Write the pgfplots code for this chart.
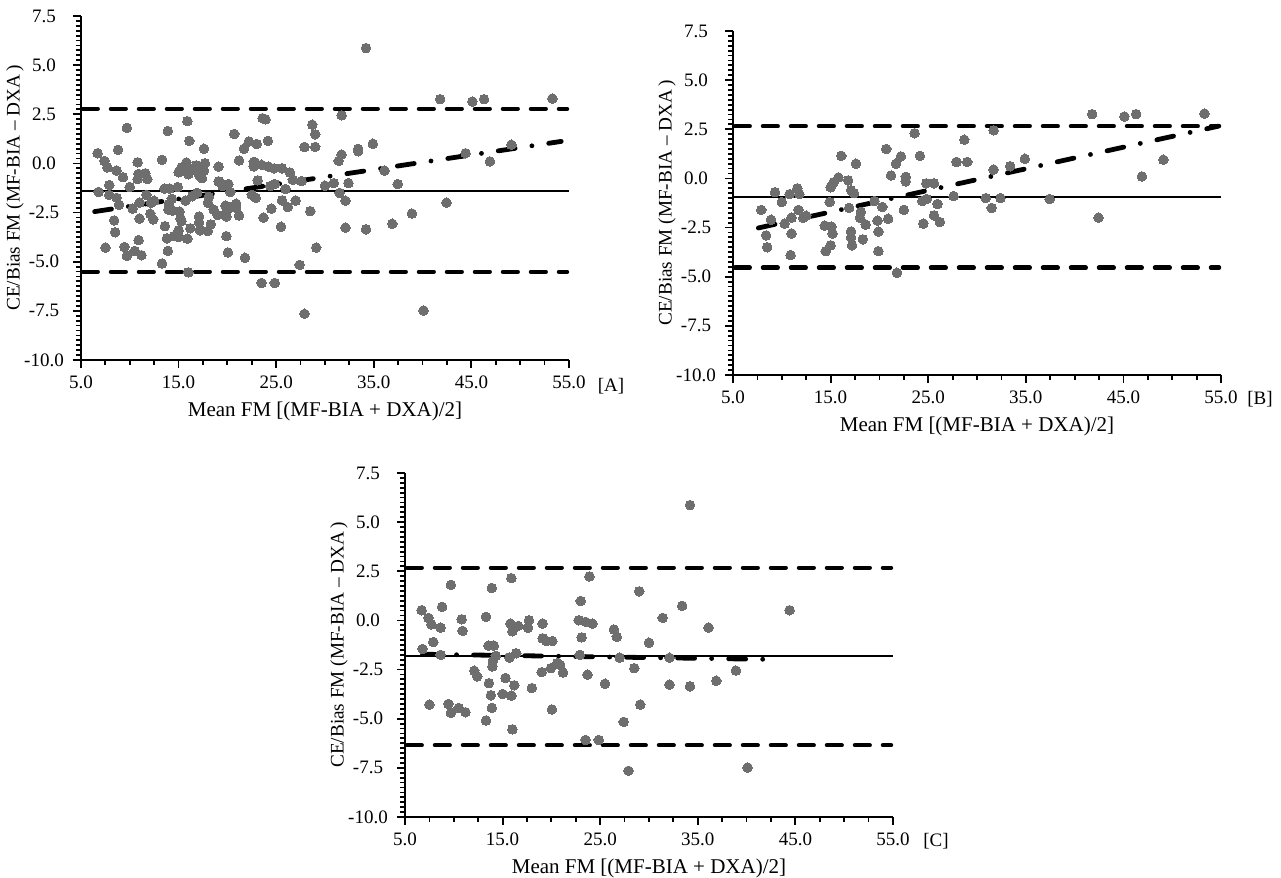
\documentclass[border=0pt]{standalone}
\usepackage{fontspec}
\setmainfont{Liberation Serif}
\usepackage{pgfplots}
\pgfplotsset{compat=1.18}
\usepackage{pgfplotstable}

\definecolor{dotgray}{RGB}{110,110,110}

% group B (first panel B)
\pgfplotstableread{
x y
7.9 -1.6
8.4 -2.9
8.5 -3.5
8.9 -2.1
9.3 -0.7
10.0 -1.2
10.3 -2.3
10.8 -0.8
10.9 -3.9
11.0 -2.0
11.0 -2.8
11.6 -0.5
11.8 -0.8
11.7 -1.6
12.5 -1.9
12.2 -2.0
14.4 -2.4
14.5 -3.7
14.9 -1.2
15.0 -3.4
15.0 -0.45
15.3 -0.2
15.1 -2.45
15.2 -2.8
15.8 0.05
16.1 1.15
16.8 -0.1
16.9 -1.5
17.1 -2.7
17.1 -3.0
17.2 -3.4
17.1 -0.6
17.4 -0.75
17.6 0.75
18.1 -1.7
18.0 -2.0
18.3 -3.1
18.6 -2.35
19.5 -1.15
19.8 -2.15
19.9 -2.7
19.9 -3.7
20.3 -1.45
20.7 1.5
20.9 -2.05
21.2 0.15
21.7 0.75
21.8 -4.8
22.2 1.12
22.5 -1.6
22.7 0.08
22.7 -0.15
23.6 2.3
24.15 1.15
24.4 -1.15
24.5 -2.3
24.8 -0.25
24.85 -1.05
25.6 -0.25
25.6 -1.88
25.95 -1.3
26.2 -2.22
27.6 -0.9
27.9 0.84
28.7 1.97
29.0 0.84
30.9 -1.0
31.5 -1.5
31.7 2.45
31.7 0.45
32.4 -1.0
33.4 0.62
34.9 1.0
37.45 -1.05
41.8 3.27
42.45 -2.0
45.1 3.15
46.3 3.27
46.9 0.1
49.1 0.95
53.3 3.3
}\groupB

% group C
\pgfplotstableread{
x y
6.7 0.52
6.8 -1.45
7.4 0.13
7.5 -4.28
7.7 -0.2
7.9 -1.1
8.65 -0.37
8.8 0.69
8.65 -1.75
9.7 1.81
9.45 -4.25
9.7 -4.7
10.5 -4.45
10.8 0.06
10.9 -0.53
11.2 -4.67
12.1 -2.56
12.4 -2.85
13.3 0.18
13.3 -5.09
13.55 -1.28
13.9 1.65
13.6 -3.19
13.9 -4.45
13.8 -3.81
14.0 -2.06
13.95 -2.34
14.1 -1.28
14.3 -1.8
15.0 -3.74
15.3 -2.93
15.7 -1.89
15.9 2.15
15.8 -0.16
16.0 -0.55
15.9 -3.83
16.0 -5.54
16.2 -3.30
16.4 -1.67
16.6 -0.28
17.6 -0.37
17.7 0.01
18.0 -3.44
19.1 -0.16
19.0 -2.63
19.1 -0.91
19.5 -1.05
20.05 -4.53
20.1 -1.05
19.95 -2.43
20.6 -2.18
20.9 -2.26
21.2 -2.65
22.8 0.01
23.0 0.99
23.1 -0.86
22.9 -1.75
23.5 -0.07
24.2 -0.16
23.9 2.24
23.7 -2.76
23.5 -6.08
24.85 -6.08
25.5 -3.22
26.4 -0.46
26.7 -0.83
27.0 -1.89
27.4 -5.16
27.9 -7.65
28.5 -2.43
29.0 1.48
29.1 -4.28
30.0 -1.13
31.4 0.13
32.1 -3.27
32.1 -1.9
33.4 0.74
34.2 5.87
34.2 -3.35
36.1 -0.37
36.9 -3.07
38.9 -2.55
40.1 -7.48
44.4 0.52
}\groupC

\tikzset{panel/.style={anchor=center, font=\fontsize{9.5}{11}\selectfont}}

\pgfplotsset{
  ba/.style={
    scale only axis,
    width=244pt, height=172pt,
    xmin=5, xmax=55, ymin=-10, ymax=7.5,
    axis lines=left,
    axis line style={-, line width=1.1pt},
    xtick={5,15,...,55},
    ytick={-10,-7.5,...,7.5},
    minor x tick num=3,
    minor y tick num=9,
    tick align=outside,
    major tick length=4pt,
    minor tick length=2.5pt,
    every tick/.style={black, line width=0.9pt},
    tick label style={font=\fontsize{9.5}{11}\selectfont},
    yticklabel style={anchor=center, xshift=-14.5pt},
    xticklabel style={yshift=-0.5pt},
    /pgf/number format/assume math mode=true,
    /pgf/number format/fixed,
    /pgf/number format/fixed zerofill,
    /pgf/number format/precision=1,
    xlabel={Mean FM [(MF-BIA + DXA)/2]},
    ylabel={CE/Bias FM (MF-BIA -- DXA\,)},
    xlabel style={font=\fontsize{10.5}{12}\selectfont,
      at={(rel axis cs:0.5,0)}, anchor=north, yshift=-17.5pt},
    ylabel style={font=\fontsize{9.6}{12}\selectfont,
      at={(rel axis cs:0,0.5)}, anchor=center, yshift=33pt},
    clip=false,
  },
  pts/.style={only marks, mark=*, mark size=2.4pt, color=dotgray,
    mark options={draw=dotgray, fill=dotgray, line width=0pt}},
  loa/.style={line width=2.2pt, line cap=round,
    dash pattern=on 7.4pt off 6.6pt},
  meanl/.style={line width=1pt},
  regl/.style={line width=2.4pt, line cap=round,
    dash pattern=on 8.5pt off 8.5pt on 0.01pt off 8.5pt},
}

\begin{document}
\begin{tikzpicture}
\path[use as bounding box] (0,0) rectangle (640.5pt,439pt);

% [A]
\begin{axis}[ba, at={(40.5pt,259pt)}, anchor=south west]
\addplot[pts] table {\groupB};
\addplot[pts] table {\groupC};
\addplot[loa] coordinates {(5.2,2.78) (54.8,2.78)};
\addplot[loa] coordinates {(5.2,-5.52) (54.8,-5.52)};
\addplot[meanl] coordinates {(5,-1.38) (55,-1.38)};
\addplot[regl] coordinates {(6.4,-2.45) (54.2,1.12)};
\node[panel] at (rel axis cs:1,0) [xshift=21pt, yshift=-13pt] {[A]};
\end{axis}

% [B]
\begin{axis}[ba, at={(366.5pt,251.5pt)}, anchor=south west]
\addplot[pts] table {\groupB};
\addplot[loa] coordinates {(5.2,2.66) (54.8,2.66)};
\addplot[loa] coordinates {(5.2,-4.54) (54.8,-4.54)};
\addplot[meanl] coordinates {(5,-0.93) (55,-0.93)};
\addplot[regl] coordinates {(7.6,-2.52) (54.75,2.66)};
\node[panel] at (rel axis cs:1,0) [xshift=19.5pt, yshift=-12pt] {[B]};
\end{axis}

% [C]
\begin{axis}[ba, at={(202.5pt,30.5pt)}, anchor=south west]
\addplot[pts] table {\groupC};
\addplot[loa] coordinates {(5.2,2.68) (54.8,2.68)};
\addplot[loa] coordinates {(5.2,-6.35) (54.8,-6.35)};
\addplot[meanl] coordinates {(5,-1.82) (55,-1.82)};
\addplot[regl] coordinates {(6.8,-1.72) (42.1,-1.98)};
\node[panel] at (rel axis cs:1,0) [xshift=21.5pt, yshift=-12pt] {[C]};
\end{axis}
\end{tikzpicture}
\end{document}
